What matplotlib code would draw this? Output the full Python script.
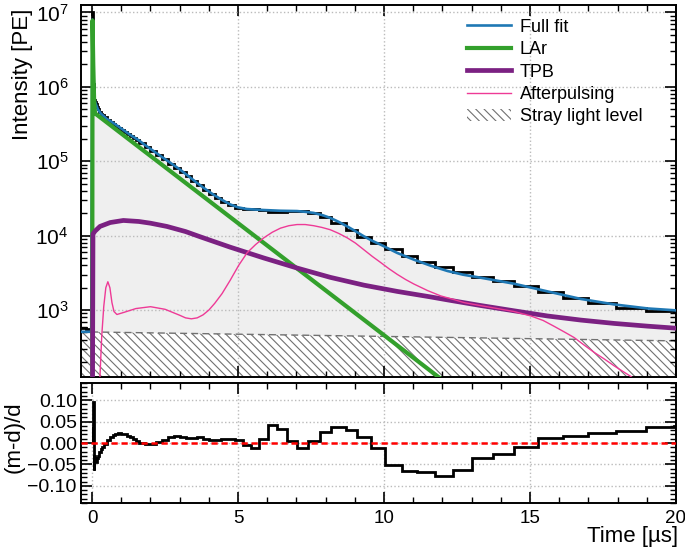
import numpy as np
import matplotlib
matplotlib.use("Agg")
import matplotlib.pyplot as plt
from matplotlib.ticker import MultipleLocator, LogLocator, NullFormatter, FuncFormatter
from matplotlib.lines import Line2D
from matplotlib.patches import Patch

plt.rcParams.update({
    "font.family": ["Liberation Sans", "DejaVu Sans"],
    "mathtext.fontset": "custom",
    "mathtext.rm": "Liberation Sans",
    "mathtext.it": "Liberation Sans:italic",
    "mathtext.bf": "Liberation Sans:bold",
    "hatch.linewidth": 0.8,
    "hatch.color": "#606060",
    "axes.linewidth": 1.4,
})

# ---------------- data ----------------
# histogram bin edges [us]
bin_edges = [-0.38, -0.2, 0.0, 0.02, 0.04, 0.06, 0.08, 0.10, 0.13, 0.16, 0.20, 0.25,
             0.30, 0.35, 0.40, 0.50, 0.60, 0.70, 0.80, 0.90, 1.00, 1.10, 1.20, 1.30,
             1.40, 1.50, 1.60, 1.80, 2.00, 2.20, 2.40, 2.60, 2.80, 3.00, 3.20, 3.40,
             3.60, 3.80, 4.00, 4.20, 4.42, 4.65, 4.90, 5.16, 5.43, 5.72, 6.02, 6.34,
             6.67, 7.03, 7.40, 7.79, 8.20, 8.68, 9.09, 9.57, 10.02, 10.60, 11.12,
             11.73, 12.35, 13.00, 13.72, 14.44, 15.27, 16.12, 17.00, 17.94, 18.97,
             19.93, 20.90]
# measured intensity per bin [PE]
data_counts = [570, 555, 1.0e7, 3.2e6, 1.1e6, 7.2e5, 6.6e5,
               6.34e5, 5.95e5, 5.43e5, 4.99e5, 4.62e5, 4.34e5, 4.15e5, 3.88e5, 3.59e5,
               3.36e5, 3.16e5, 2.97e5, 2.78e5, 2.61e5, 2.45e5, 2.31e5, 2.17e5, 2.06e5,
               1.95e5, 1.78e5, 1.56e5, 1.38e5, 1.21e5, 1.06e5, 9.30e4, 8.17e4, 7.15e4,
               6.24e4, 5.41e4, 4.72e4, 4.13e4, 3.66e4, 3.24e4, 2.87e4, 2.57e4, 2.37e4,
               2.29e4, 2.27e4, 2.19e4, 2.10e4, 2.10e4, 2.14e4, 2.13e4, 2.01e4, 1.78e4,
               1.48e4, 1.20e4, 9.57e3, 7.93e3, 6.59e3, 5.40e3, 4.48e3, 3.77e3, 3.20e3,
               2.80e3, 2.47e3, 2.10e3, 1.73e3, 1.44e3, 1.24e3, 1.08e3, 985, 930]
# residual (m-d)/d per bin, bins from t = 0
residuals = [0.035, 0.0, 0.095, -0.063, -0.03,
             -0.04, -0.045, -0.035, -0.03, -0.022, -0.015, -0.01, -0.002, 0.008, 0.015,
             0.019, 0.022, 0.024, 0.022, 0.02, 0.017, 0.013, 0.009, 0.005, 0.0, -0.003,
             -0.002, 0.003, 0.008, 0.013, 0.017, 0.015, 0.011, 0.012, 0.014, 0.01,
             0.007, 0.008, 0.01, 0.01, 0.006, -0.004, -0.011, 0.01, 0.043, 0.032,
             0.005, -0.011, 0.004, 0.026, 0.037, 0.031, 0.014, -0.012, -0.052, -0.065,
             -0.068, -0.077, -0.063, -0.034, -0.026, -0.009, 0.012, 0.016, 0.023,
             0.027, 0.037, 0.04]

# full fit
fit_t = [-0.38, -0.03, 0.01, 0.04, 0.07, 0.10, 0.15, 0.20, 0.30, 0.50, 0.73, 1.00,
         1.30, 1.60, 1.88, 2.20, 2.45, 2.75, 3.02, 3.30, 3.59, 3.90, 4.16, 4.45, 4.73,
         5.00, 5.30, 5.60, 5.88, 6.45, 7.02, 7.30, 7.59, 7.90, 8.16, 8.45, 8.74, 9.00,
         9.31, 9.60, 9.88, 10.45, 11.02, 11.60, 12.17, 12.70, 13.31, 14.45, 15.60,
         16.74, 17.88, 19.03, 20.00]
fit_v = [510, 510, 8.0e6, 2.2e6, 7.5e5, 6.3e5, 5.6e5, 5.0e5, 4.37e5, 3.72e5, 3.26e5,
         2.75e5, 2.27e5, 1.91e5, 1.58e5, 1.29e5, 1.10e5, 9.12e4, 7.69e4, 6.31e4,
         5.13e4, 4.17e4, 3.55e4, 3.02e4, 2.63e4, 2.40e4, 2.28e4, 2.24e4, 2.21e4,
         2.16e4, 2.14e4, 2.09e4, 2.02e4, 1.88e4, 1.73e4, 1.53e4, 1.33e4, 1.16e4,
         9.79e3, 8.51e3, 7.57e3, 5.86e3, 4.76e3, 3.94e3, 3.35e3, 2.99e3, 2.72e3,
         2.26e3, 1.78e3, 1.41e3, 1.19e3, 1.05e3, 990]

# LAr component
lar_t = [0.0, 0.015, 0.04, 0.07, 0.10, 12.5]
lar_v = [1.0, 7.8e6, 2.0e6, 6.5e5, 4.4e5, 81]

# TPB component
tpb_t = [0.0, 0.03, 0.10, 0.27, 0.62, 1.07, 1.60, 2.00, 2.56, 3.20, 3.70, 4.73, 5.88,
         7.02, 8.16, 9.31, 10.45, 11.60, 12.17, 13.31, 14.45, 15.60, 16.74, 17.88,
         19.03, 20.00]
tpb_v = [1.0, 1.05e4, 1.15e4, 1.33e4, 1.50e4, 1.60e4, 1.55e4, 1.47e4, 1.33e4,
         1.135e4, 9.66e3, 7.0e3, 5.01e3, 3.67e3, 2.75e3, 2.16e3, 1.78e3, 1.50e3,
         1.37e3, 1.15e3, 977, 832, 733, 661, 607, 570]

# Afterpulsing component
ap_t = [0.22, 0.27, 0.33, 0.40, 0.47, 0.54, 0.61, 0.68, 0.75, 0.85, 1.10, 1.50, 2.00,
        2.50, 3.00, 3.20, 3.40, 3.60, 3.80, 4.00, 4.20, 4.45, 4.73, 5.02, 5.31, 5.60,
        5.88, 6.17, 6.45, 6.74, 7.02, 7.30, 7.59, 7.87, 8.16, 8.45, 8.74, 9.02, 9.31,
        9.60, 9.88, 10.17, 10.45, 10.74, 11.02, 11.50, 11.94, 12.40, 12.74, 13.30,
        13.88, 14.45, 15.03, 15.45, 15.83, 16.20, 16.51, 16.85, 17.20, 17.55, 17.88,
        18.20, 18.44, 18.80]
ap_v = [16, 129, 447, 1122, 1995, 2399, 1995, 1259, 955, 871, 933, 1047, 1109, 1023,
        851, 785, 762, 785, 861, 1000, 1230, 1660, 2512, 3981, 5888, 7586, 9333,
        1.11e4, 1.26e4, 1.36e4, 1.41e4, 1.41e4, 1.36e4, 1.29e4, 1.20e4, 1.07e4, 9333,
        7943, 6457, 5248, 4365, 3589, 3020, 2570, 2239, 1820, 1549, 1380, 1259, 1148,
        1047, 955, 832, 724, 603, 501, 427, 339, 269, 219, 178, 148, 129, 100]

# Stray light level
stray_t = [-0.38, 20.0]
stray_v = [510, 385]

# ---------------- figure ----------------
W, H = 685, 552
fig = plt.figure(figsize=(W / 100, H / 100), dpi=100)
ax = fig.add_axes([81 / W, 1 - 377 / H, 595 / W, 372 / H])
axr = fig.add_axes([81 / W, 1 - 503 / H, 595 / W, 120 / H], sharex=ax)

c_fit, c_lar, c_tpb, c_ap = "#1f78b4", "#33a02c", "#7b2182", "#ee3a96"

ax.fill_between(fit_t, 1, fit_v, color="#efefef", lw=0, zorder=0.3)
ax.fill_between(stray_t, 1, stray_v, facecolor="white", edgecolor="#707070",
                hatch="\\\\\\\\", linestyle=(0, (5, 3)), lw=1.0, zorder=1)
ax.stairs(data_counts, bin_edges, baseline=None, color="black", lw=2, zorder=2)
ax.plot(fit_t, fit_v, color=c_fit, lw=1.9, zorder=3)
ax.plot(lar_t, lar_v, color=c_lar, lw=3.0, zorder=4)
ax.plot(tpb_t, tpb_v, color=c_tpb, lw=3.4, zorder=5)
ax.plot(ap_t, ap_v, color=c_ap, lw=1.0, zorder=6)

ax.set_yscale("log")
ax.set_ylim(10 ** 2.1, 10 ** 7.1)
ax.set_xlim(-0.38, 20)
ax.yaxis.set_major_locator(LogLocator(base=10, numticks=20))
ax.yaxis.set_minor_locator(LogLocator(base=10, subs=np.arange(2, 10), numticks=50))
ax.yaxis.set_minor_formatter(NullFormatter())
ax.xaxis.set_major_locator(MultipleLocator(5))
ax.xaxis.set_minor_locator(MultipleLocator(1))
ax.grid(True, which="major", ls=":", color="#bbbbbb", lw=1)
ax.tick_params(which="both", direction="in", top=True, right=True, labelbottom=False)
ax.tick_params(which="major", length=8, width=1.2)
ax.tick_params(which="minor", length=4.5, width=1.0)
ax.tick_params(axis="y", labelsize=15, pad=9)
ax.set_ylabel("Intensity [PE]", fontsize=16, loc="top")
ax.yaxis.set_label_coords(-0.080, 0.991)

handles = [Line2D([], [], color=c_fit, lw=1.9),
           Line2D([], [], color=c_lar, lw=3.0),
           Line2D([], [], color=c_tpb, lw=3.4),
           Line2D([], [], color=c_ap, lw=1.0),
           Patch(facecolor="white", edgecolor="#707070", lw=0, hatch="\\\\\\\\")]
labels = ["Full fit", "LAr", "TPB", "Afterpulsing", "Stray light level"]
ax.legend(handles, labels, loc="upper left", bbox_to_anchor=(0.648, 0.963),
          frameon=False, fontsize=13, handlelength=2.45, handletextpad=0.5,
          labelspacing=0.3, borderpad=0, borderaxespad=0)

# residual panel
axr.stairs(residuals, bin_edges[2:], baseline=None, color="black", lw=2, zorder=3)
axr.axhline(0, color="red", ls=(0, (2.5, 1.5)), lw=1.8, zorder=4)
axr.set_ylim(-0.14, 0.14)
axr.set_xlim(-0.38, 20)
axr.yaxis.set_major_locator(MultipleLocator(0.05))
axr.yaxis.set_minor_locator(MultipleLocator(0.01))
axr.yaxis.set_major_formatter(FuncFormatter(
    lambda v, p: f"{v:.2f}".replace("-", "\u2212") if abs(v) > 1e-9 else "0.00"))
axr.grid(True, which="major", ls=":", color="#bbbbbb", lw=1)
axr.tick_params(which="both", direction="in", top=True, right=True)
axr.tick_params(which="major", length=8, width=1.2)
axr.tick_params(which="minor", length=4.5, width=1.0)
axr.tick_params(axis="y", labelsize=14, pad=3)
axr.tick_params(axis="x", labelsize=13.5, pad=5)
axr.set_ylabel("(m-d)/d", fontsize=16)
axr.yaxis.set_label_coords(-0.094, 0.55)
axr.set_xlabel("Time [µs]", fontsize=16, loc="right")
axr.xaxis.set_label_coords(1.003, -0.19)

fig.savefig("out.png", dpi=100)
